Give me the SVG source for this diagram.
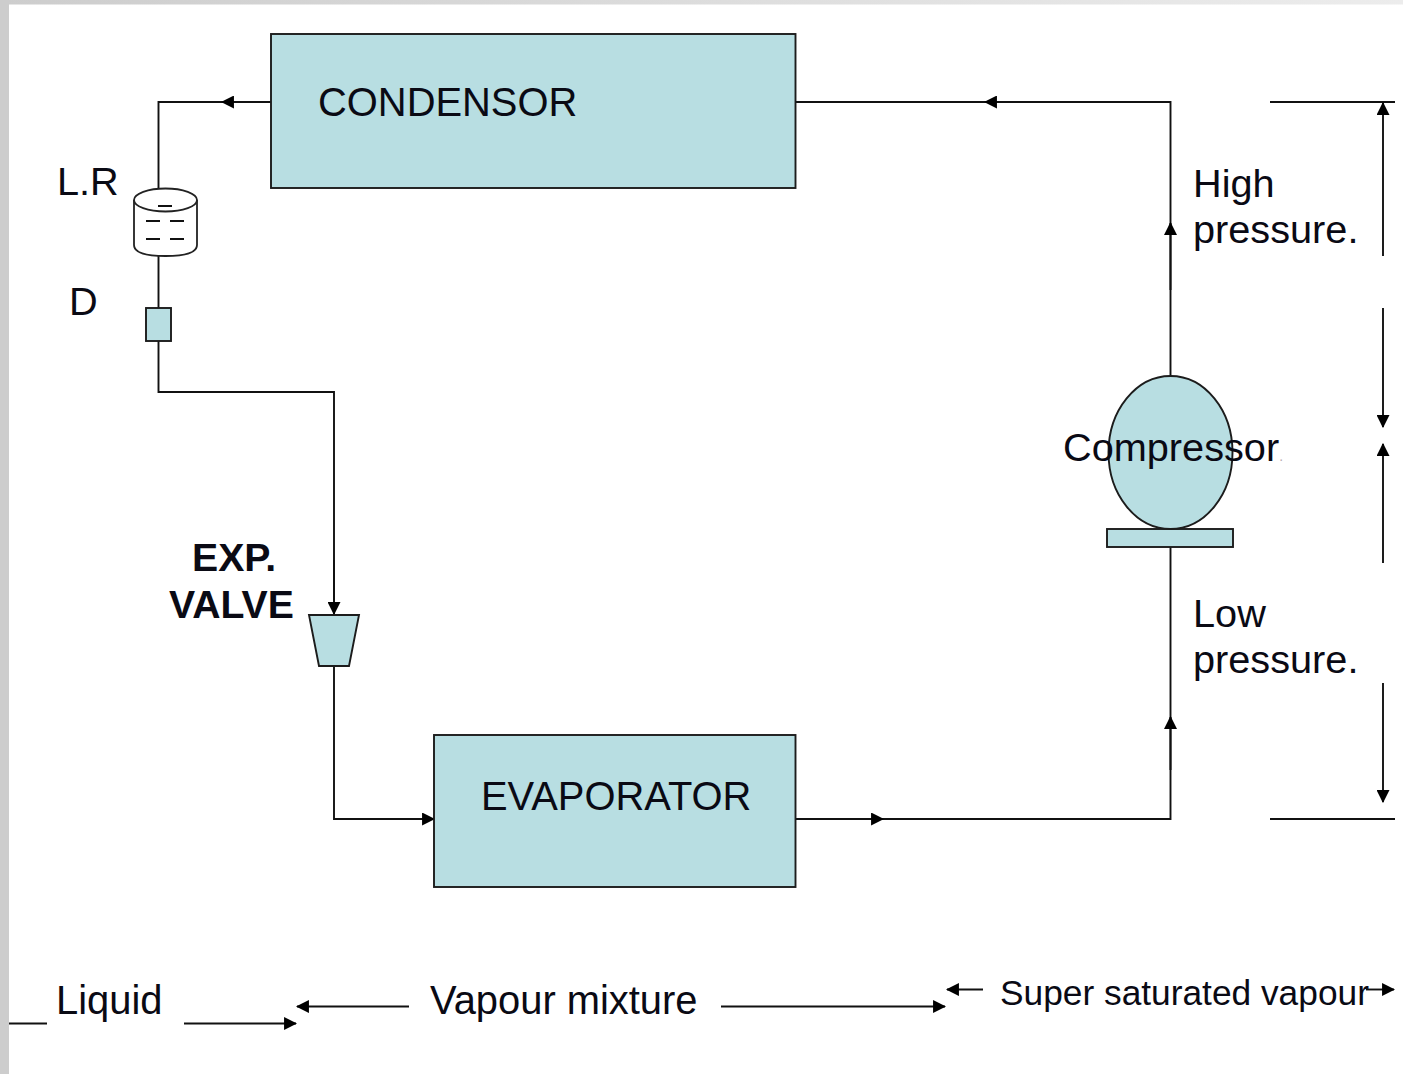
<svg xmlns="http://www.w3.org/2000/svg" width="1403" height="1074" viewBox="0 0 1403 1074">
<defs>
<linearGradient id="topbar" x1="0" x2="1" y1="0" y2="0"><stop offset="0" stop-color="#cdcdcd"/><stop offset="1" stop-color="#ececec"/></linearGradient>
<marker id="ah" viewBox="0 0 12 12" refX="11" refY="6" markerWidth="13" markerHeight="13" markerUnits="userSpaceOnUse" orient="auto-start-reverse"><path d="M0 0L12 6L0 12Z" fill="#000"/></marker>
</defs>
<style>
.fill{fill:#b8dee2;stroke:#1c1c1c;stroke-width:1.9}
.ln{fill:none;stroke:#111;stroke-width:1.9}
.arr{fill:none;stroke:#111;stroke-width:1.9;marker-end:url(#ah)}
.t{font-family:"Liberation Sans",Arial,sans-serif;font-size:39.700px;fill:#0a0a14}
.c{font-size:39.900px}
.b{font-weight:700;font-size:39.200px}
.s{font-size:35.300px}
</style>
<rect width="1403" height="1074" fill="#fff"/>
<rect width="1403" height="4.500" fill="url(#topbar)"/>
<rect width="9" height="1074" fill="#cdcdcd"/>
<g id="connectors">
<path class="ln" d="M271 102H158.500V188M158.500 256V308M158.500 341V392H334V614"/>
<path class="arr" d="M271 102H222"/>
<path class="arr" d="M334 560V614"/>
<path class="ln" d="M334 666V819H434"/>
<path class="arr" d="M380 819H434"/>
<path class="ln" d="M795 102H1170.500V376"/>
<path class="arr" d="M1035 102H985"/>
<path class="arr" d="M1170.500 290V223"/>
<path class="ln" d="M795 819H1170.500V547"/>
<path class="arr" d="M840 819H883"/>
<path class="arr" d="M1170.500 770V717"/>
<path class="ln" d="M1270 102H1395M1270 819H1395"/>
<path class="arr" d="M1383 256V103"/>
<path class="arr" d="M1383 308V427"/>
<path class="arr" d="M1383 563V444"/>
<path class="arr" d="M1383 683V802"/>
<path class="ln" d="M9 1023.500H47"/>
<path class="arr" d="M184 1023.500H296"/>
<path class="arr" d="M409 1006.500H297"/>
<path class="arr" d="M721 1006.500H945"/>
<path class="arr" d="M983 989.500H947"/>
<path class="arr" d="M1366 989.500H1394"/>
</g>
<g id="condensor"><rect class="fill" x="271" y="34" width="524.500" height="154"/><text class="t c" x="318" y="116">CONDENSOR</text></g>
<g id="evaporator"><rect class="fill" x="434" y="735" width="361.500" height="152"/><text class="t c" x="481" y="810">EVAPORATOR</text></g>
<g id="receiver">
<path d="M134 200V245Q134 256 165.500 256Q197 256 197 245V200" fill="#fff" stroke="#222" stroke-width="1.800"/>
<ellipse cx="165.500" cy="200" rx="31.500" ry="11.500" fill="#fff" stroke="#222" stroke-width="1.800"/>
<path class="ln" d="M158 206H172M146 221H160M170 221H184M146 239H160M170 239H184"/>
<text class="t" x="57" y="195">L.R</text>
</g>
<g id="drier"><rect class="fill" x="146" y="308" width="25" height="33"/><text class="t" x="69" y="315">D</text></g>
<g id="expansion-valve"><path class="fill" d="M309 615H359L349 666H319Z"/><text class="t b" x="192" y="571">EXP.</text><text class="t b" x="169" y="618">VALVE</text></g>
<g id="compressor"><rect class="fill" x="1107" y="529" width="126" height="18"/><ellipse class="fill" cx="1170.500" cy="452.500" rx="62" ry="76.500"/><text class="t" x="1063" y="461">Compressor<tspan font-size="14" fill="#b9a9b0">.</tspan></text></g>
<g id="labels">
<text class="t" x="1193" y="197">High</text>
<text class="t" x="1193" y="243">pressure.</text>
<text class="t" x="1193" y="627">Low</text>
<text class="t" x="1193" y="673">pressure.</text>
<text class="t c" x="56" y="1014">Liquid</text>
<text class="t c" x="430" y="1014">Vapour mixture</text>
<text class="t s" x="1000" y="1005">Super saturated vapour</text>
</g>
</svg>
